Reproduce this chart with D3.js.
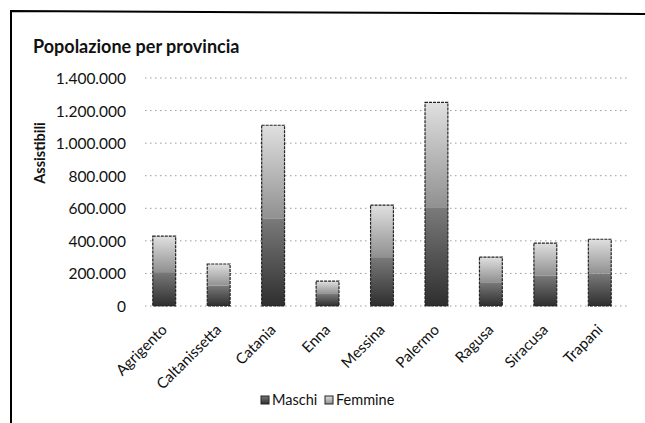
<!DOCTYPE html>
<html>
<head>
<meta charset="utf-8">
<script src="https://cdn.jsdelivr.net/npm/d3@7"></script>
<style>
  body { margin: 0; background: #fff; }
  svg text { font-family: Lato, "Open Sans", sans-serif; fill: #111; }
</style>
</head>
<body>
<svg id="chart" width="645" height="423"></svg>
<script>
// data
const province = ['Agrigento', 'Caltanissetta', 'Catania', 'Enna', 'Messina', 'Palermo', 'Ragusa', 'Siracusa', 'Trapani'];
const maschi   = [208000, 125000, 535000, 74000, 300000, 602000, 146000, 188000, 199000];
const femmine  = [221000, 133000, 575000, 79000, 320000, 648000, 154000, 198000, 211000];
const yTicks   = [0, 200000, 400000, 600000, 800000, 1000000, 1200000, 1400000];
const serie    = ['Maschi', 'Femmine'];

const svg = d3.select('#chart');
const W = 645, H = 423;

svg.append('rect').attr('width', W).attr('height', H).attr('fill', '#fff');

// scanned frame
svg.append('path')
  .attr('d', 'M11,423 L11,11 L645,14')
  .attr('fill', 'none').attr('stroke', '#000').attr('stroke-width', 2);

const x = d3.scaleBand().domain(province).range([137, 627])
  .paddingInner(0.58).paddingOuter(0.29);
const y = d3.scaleLinear().domain([0, 1400000]).range([306, 78]);

const fmt = d => d3.format(',')(d).replace(/,/g, '.');

// gradients to mimic the grey scan
const defs = svg.append('defs');
const g1 = defs.append('linearGradient').attr('id', 'gM').attr('x1', 0).attr('y1', 0).attr('x2', 0).attr('y2', 1);
g1.append('stop').attr('offset', 0).attr('stop-color', '#7a7a7a');
g1.append('stop').attr('offset', 1).attr('stop-color', '#2e2e2e');
const g2 = defs.append('linearGradient').attr('id', 'gF').attr('x1', 0).attr('y1', 0).attr('x2', 0).attr('y2', 1);
g2.append('stop').attr('offset', 0).attr('stop-color', '#e0e0e0');
g2.append('stop').attr('offset', 1).attr('stop-color', '#909090');

// grid
svg.append('g').selectAll('line').data(yTicks).join('line')
  .attr('x1', 145).attr('x2', 627)
  .attr('y1', d => y(d)).attr('y2', d => y(d))
  .attr('stroke', '#9a9a9a').attr('stroke-width', 1)
  .attr('stroke-dasharray', '1.5,3.5');

// y axis labels
const yAxis = d3.axisLeft(y).tickValues(yTicks).tickFormat(fmt).tickSize(0).tickPadding(0);
const ya = svg.append('g').attr('transform', 'translate(126,0)').call(yAxis);
ya.select('.domain').remove();
ya.selectAll('text').attr('font-size', 15.5).attr('dy', '0.35em')
  .style('font-family', 'Lato, "Open Sans", sans-serif').attr('fill', '#111');

// stacked bars
const rows = province.map((p, i) => ({ p, Maschi: maschi[i], Femmine: femmine[i] }));
const stack = d3.stack().keys(serie)(rows);
const fills = { Maschi: 'url(#gM)', Femmine: 'url(#gF)' };

svg.append('g')
  .selectAll('g').data(stack).join('g')
  .attr('fill', s => fills[s.key])
  .selectAll('rect').data(s => s).join('rect')
  .attr('x', d => x(d.data.p))
  .attr('width', x.bandwidth())
  .attr('y', d => y(d[1]))
  .attr('height', d => y(d[0]) - y(d[1]));

// dark scan edges around each whole bar
svg.append('g').selectAll('rect').data(rows).join('rect')
  .attr('x', d => x(d.p))
  .attr('width', x.bandwidth())
  .attr('y', d => y(d.Maschi + d.Femmine))
  .attr('height', d => y(0) - y(d.Maschi + d.Femmine))
  .attr('fill', 'none').attr('stroke', '#222').attr('stroke-width', 1.2)
  .attr('stroke-dasharray', '3,1');

// x labels
const xAxis = d3.axisBottom(x).tickSize(0).tickPadding(0);
const xa = svg.append('g').attr('transform', 'translate(0,327)').call(xAxis);
xa.select('.domain').remove();
xa.selectAll('text')
  .attr('font-size', 15)
  .style('font-family', 'Lato, "Open Sans", sans-serif')
  .attr('fill', '#111')
  .attr('text-anchor', 'end')
  .attr('dy', '0.35em')
  .attr('transform', 'rotate(-45)');

// title
svg.append('text').attr('x', 33).attr('y', 53)
  .attr('font-size', 18).attr('font-weight', 'bold')
  .text('Popolazione per provincia');

// y title
svg.append('text')
  .attr('transform', 'translate(45,153) rotate(-90)')
  .attr('text-anchor', 'middle')
  .attr('font-size', 14.5).attr('font-weight', 'bold')
  .text('Assistibili');

// legend
const leg = svg.append('g').attr('transform', 'translate(261,405)');
const li = leg.selectAll('g').data(serie).join('g')
  .attr('transform', (d, i) => `translate(${i * 64},0)`);
li.append('rect').attr('x', 0).attr('y', -9).attr('width', 8).attr('height', 8)
  .attr('fill', d => fills[d]).attr('stroke', '#222').attr('stroke-width', 1);
li.append('text').attr('x', 11).attr('y', 0).attr('font-size', 14.5).text(d => d);
</script>
</body>
</html>
